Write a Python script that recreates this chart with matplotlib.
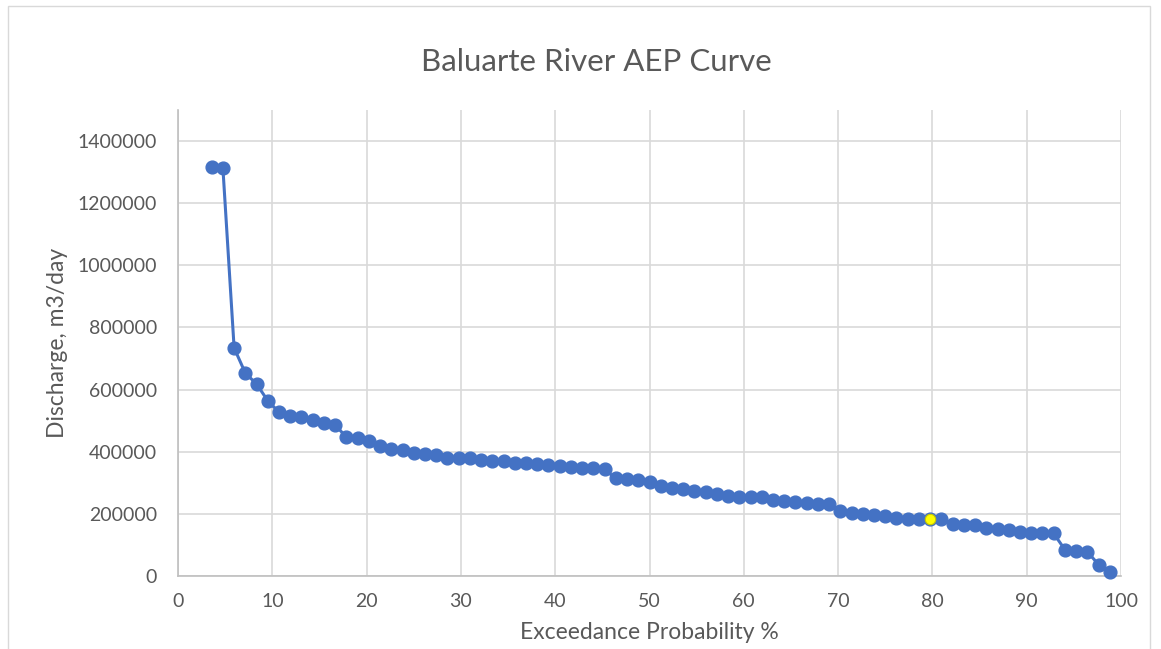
import matplotlib
matplotlib.use("Agg")
import matplotlib.pyplot as plt
from matplotlib.patches import Rectangle

# ---- data ----
exceedance_pct = [
    3.571, 4.762, 5.952, 7.143, 8.333, 9.524, 10.714, 11.905, 13.095, 14.286,
    15.476, 16.667, 17.857, 19.048, 20.238, 21.429, 22.619, 23.810, 25.000, 26.190,
    27.381, 28.571, 29.762, 30.952, 32.143, 33.333, 34.524, 35.714, 36.905, 38.095,
    39.286, 40.476, 41.667, 42.857, 44.048, 45.238, 46.429, 47.619, 48.810, 50.000,
    51.190, 52.381, 53.571, 54.762, 55.952, 57.143, 58.333, 59.524, 60.714, 61.905,
    63.095, 64.286, 65.476, 66.667, 67.857, 69.048, 70.238, 71.429, 72.619, 73.810,
    75.000, 76.190, 77.381, 78.571, 79.762, 80.952, 82.143, 83.333, 84.524, 85.714,
    86.905, 88.095, 89.286, 90.476, 91.667, 92.857, 94.048, 95.238, 96.429, 97.619,
    98.810,
]
discharge = [
    1318000, 1313000, 734000, 653000, 618000, 564000, 527000, 516000, 512000, 501000,
    492000, 486000, 447000, 444000, 433000, 417000, 408000, 405000, 397000, 393000,
    391000, 381000, 380000, 379000, 373000, 371000, 370000, 365000, 363000, 362000,
    358000, 353000, 351000, 349000, 348000, 343000, 314000, 313000, 309000, 304000,
    289000, 283000, 281000, 273000, 270000, 265000, 257000, 254000, 254000, 253000,
    246000, 241000, 238000, 234000, 232000, 232000, 208000, 203000, 200000, 197000,
    193000, 186000, 184000, 184000, 183000, 185000, 168000, 165000, 164000, 156000,
    151000, 148000, 141000, 138000, 138000, 137000, 85000, 80000, 78000, 37000,
    13000,
]
highlight_index = 64  # the yellow point (~80 %)

title = "Baluarte River AEP Curve"
xlabel = "Exceedance Probability %"
ylabel = "Discharge, m3/day"
xticks = [0, 10, 20, 30, 40, 50, 60, 70, 80, 90, 100]
yticks = [0, 200000, 400000, 600000, 800000, 1000000, 1200000, 1400000]

# ---- style ----
plt.rcParams['font.family'] = ['Lato', 'DejaVu Sans']
text_color = '#595959'
blue = '#4472C4'

W, H = 1161, 649
fig = plt.figure(figsize=(W / 100, H / 100), dpi=100)
fig.patch.set_facecolor('white')

# chart border
fig.patches.append(Rectangle((8 / W, -0.05), (1150 - 8) / W, 1.05 - 6 / H,
                             transform=fig.transFigure, fill=False,
                             edgecolor='#D9D9D9', linewidth=1.0))

ax = fig.add_axes([178 / W, 1 - 576 / H, (1121 - 178) / W, (576 - 110) / H])
ax.set_xlim(0, 100)
ax.set_ylim(0, 1500000)
ax.set_xticks(xticks)
ax.set_yticks(yticks)
ax.set_xticklabels([str(t) for t in xticks])
ax.set_yticklabels([str(t) for t in yticks])
ax.grid(True, color='#D9D9D9', linewidth=1.2)
ax.set_axisbelow(True)
for s in ['top', 'right']:
    ax.spines[s].set_visible(False)
for s in ['left', 'bottom']:
    ax.spines[s].set_color('#BFBFBF')
    ax.spines[s].set_linewidth(1.2)
ax.tick_params(length=0, labelsize=14, colors=text_color)
ax.tick_params(axis='y', pad=15)
ax.tick_params(axis='x', pad=12)

ax.plot(exceedance_pct, discharge, color=blue, linewidth=2.2,
        marker='o', markersize=9.2, markerfacecolor=blue,
        markeredgecolor=blue, zorder=3, clip_on=False)
ax.plot([exceedance_pct[highlight_index]], [discharge[highlight_index]],
        linestyle='none', marker='o', markersize=7.5,
        markerfacecolor='#FFFF00', markeredgecolor='#C8C800',
        markeredgewidth=0.8, zorder=4)

ax.set_xlabel(xlabel, fontsize=16.5, color=text_color, labelpad=9)
ax.set_ylabel(ylabel, fontsize=16.5, color=text_color, labelpad=7)
fig.text(596 / W, 1 - 62 / H, title, fontsize=22.5, color=text_color,
         ha='center', va='center', fontweight='normal')

fig.savefig('out.png', dpi=100)
